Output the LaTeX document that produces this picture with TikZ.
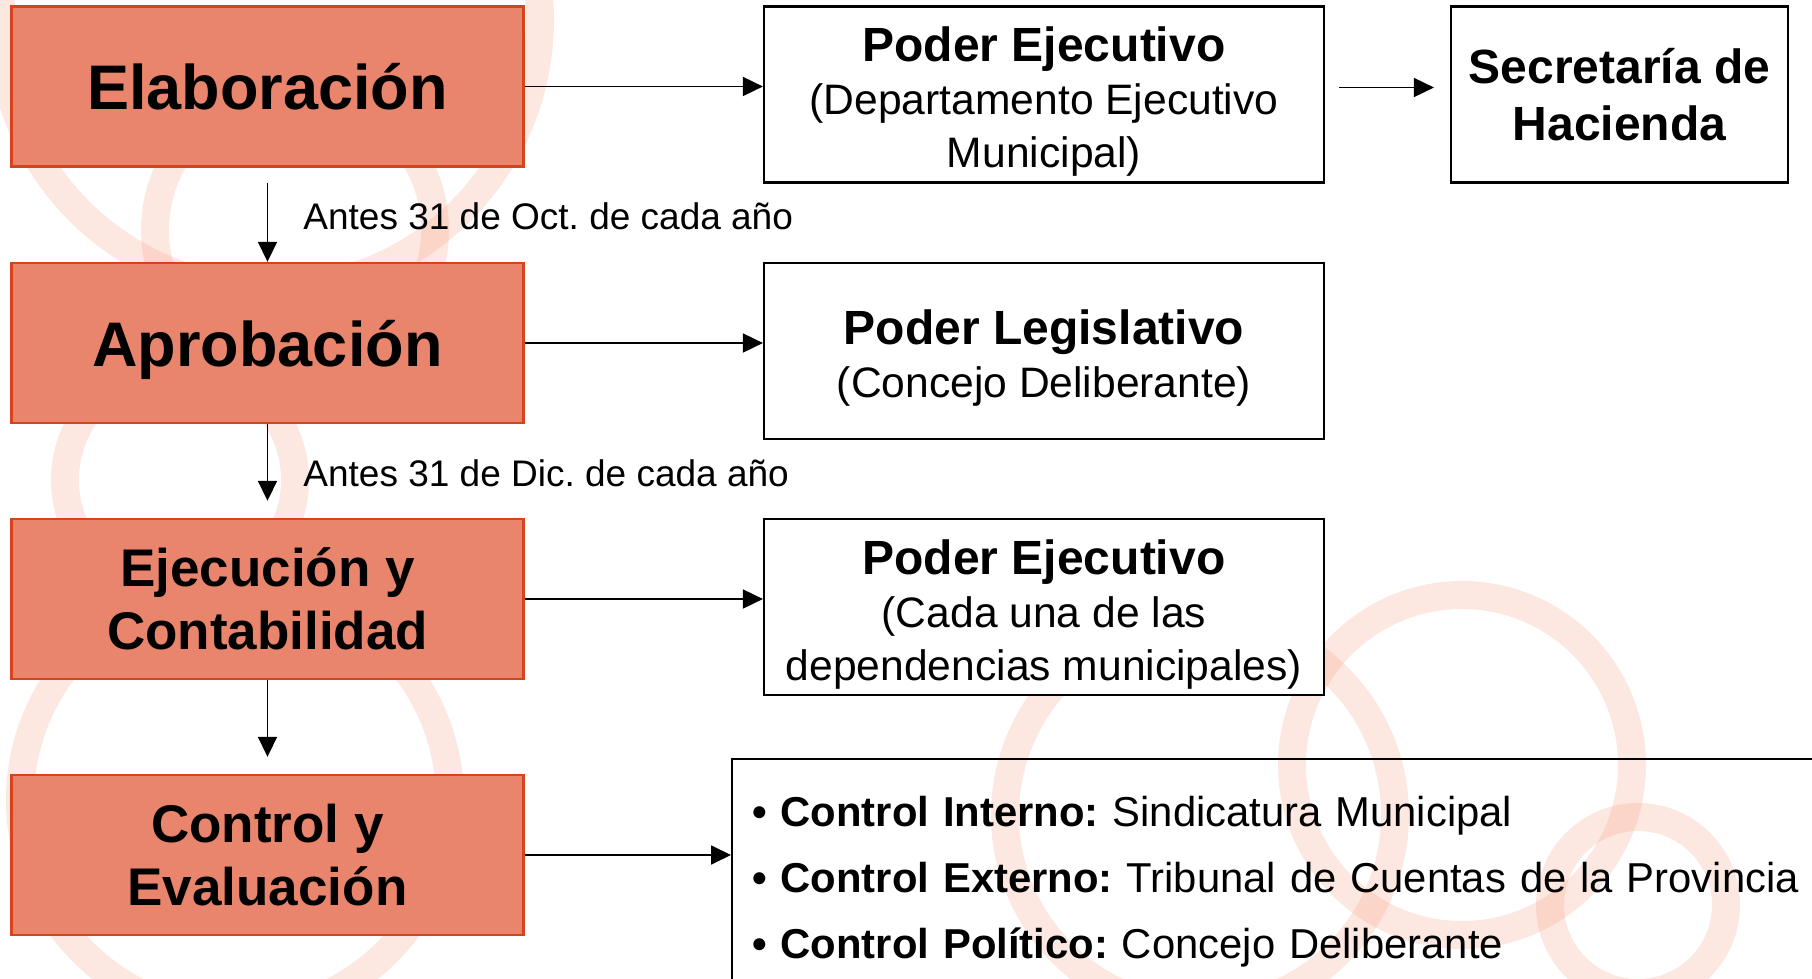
\documentclass[tikz,border=0pt]{standalone}
\usepackage{fontspec}
\setmainfont{Liberation Sans}
\usetikzlibrary{arrows.meta}
\usetikzlibrary{positioning}
\definecolor{phasefill}{RGB}{233,133,108}
\definecolor{phaseline}{RGB}{214,68,30}
\definecolor{ringcol}{RGB}{238,118,78}
\frenchspacing
\hyphenpenalty=10000
\tikzset{
every picture/.style={line width=0.9pt, x=0.5pt, y=-0.5pt},
%%%%%%%%%%  Node styles
phase/.style={draw=phaseline, fill=phasefill, line width=1.2pt,
              minimum width=256pt, minimum height=80pt, inner sep=0pt,
              align=center},
bigphase/.style={phase, text depth=0pt,
                 font=\bfseries\fontsize{31.5}{38}\selectfont},
twophase/.style={phase, font=\bfseries\fontsize{26.5}{31.8}\selectfont},
organ/.style={draw, fill=white, line width=1.1pt, minimum width=280pt,
              minimum height=88pt, inner sep=0pt, align=center,
              font=\fontsize{21.3}{26.5}\selectfont},
ctrllist/.style={draw, line width=1.1pt, anchor=north west,
                 inner xsep=10pt, inner ysep=0pt, text width=560pt,
                 minimum height=123pt, align=left,
                 font=\fontsize{20.9}{33}\selectfont},
datelbl/.style={inner sep=0pt, font=\fontsize{18.5}{22}\selectfont},
%%%% line styles:
flow/.style={-{Triangle[length=10pt,width=9.5pt]}, line width=0.9pt},
ring/.style={draw=ringcol, line width=14pt, opacity=0.17}
}
\newcommand{\boxtitle}[1]{{\bfseries\fontsize{24}{26.5}\selectfont\rule{0pt}{24.5pt}#1}}

\begin{document}
\begin{tikzpicture}
\useasboundingbox (0,0) rectangle (1812,979);
\foreach \cx/\cy/\r in {270/20/270, 295/230/140, 180/480/115, 235/800/215,
                        1200/815/195, 1462/765/170, 1638/905/88}
  \draw[ring] (\cx,\cy) circle[radius=\r];
\node[bigphase] (elab) at (267.5,86.5) {Elaboración};
\node[bigphase] (aprob) at (267.5,343) {Aprobación};
\node[twophase] (ejec) at (267.5,599) {Ejecución y\\Contabilidad};
\node[twophase] (ctrl) at (267.5,855) {Control y\\Evaluación};
\node[organ] (pe1) at (1044,94.5) {\boxtitle{Poder Ejecutivo}\\(Departamento Ejecutivo\\Municipal)};
\node[organ, minimum width=168.5pt, font=\bfseries\fontsize{24}{28.5}\selectfont]
  (sec) at (1619.5,94.5) {Secretaría de\\Hacienda};
\node[organ] (legis) at (1044,351) {\boxtitle{Poder Legislativo}\\(Concejo Deliberante)};
\node[organ] (pe2) at (1044,607) {\boxtitle{Poder Ejecutivo}\\(Cada una de las\\dependencias municipales)};
\node[ctrllist] (ctrlbox) at (731,758)
  {\textbf{• Control Interno:} Sindicatura Municipal\\
   \textbf{• Control Externo:} Tribunal de Cuentas de la Provincia\\
   \textbf{• Control Político:} Concejo Deliberante};
\draw[flow] (elab.east) -- (elab.east -| pe1.west);
\draw[flow] ([xshift=7pt,yshift=3.5pt]pe1.east) -- ([xshift=-8pt,yshift=3.5pt]sec.west);
\draw[flow] (aprob.east) -- (aprob.east -| legis.west);
\draw[flow] (ejec.east) -- (ejec.east -| pe2.west);
\draw[flow] (ctrl.east) -- (ctrl.east -| ctrlbox.west);
\draw[flow] ([yshift=-7.5pt]elab.south) -- (aprob.north)
  node[datelbl, pos=0.43, right=17.5pt] {Antes 31 de Oct. de cada año};
\draw[flow] (aprob.south) -- ([yshift=8.5pt]ejec.north)
  node[datelbl, pos=0.64, right=17.5pt] {Antes 31 de Dic. de cada año};
\draw[flow] (ejec.south) -- ([yshift=8.5pt]ctrl.north);
\end{tikzpicture}
\end{document}
